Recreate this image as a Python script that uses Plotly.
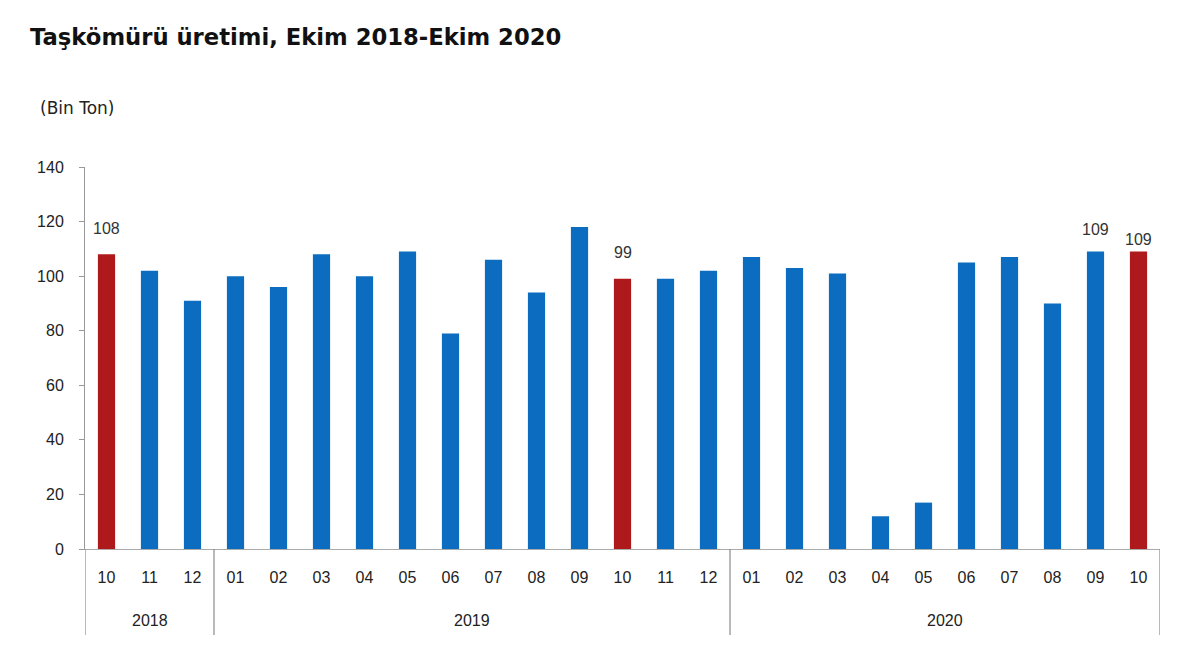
import plotly.graph_objects as go

years = ["2018"] * 3 + ["2019"] * 12 + ["2020"] * 10
months = ["10", "11", "12",
          "01", "02", "03", "04", "05", "06", "07", "08", "09", "10", "11", "12",
          "01", "02", "03", "04", "05", "06", "07", "08", "09", "10"]
values = [108, 102, 91,
          100, 96, 108, 100, 109, 79, 106, 94, 118, 99, 99, 102,
          107, 103, 101, 12, 17, 105, 107, 90, 109, 109]
highlight = [0, 12, 24]
labelled = [0, 12, 23, 24]
y_ticks = [0, 20, 40, 60, 80, 100, 120, 140]

# styles
BLUE = "#0b6cc0"
RED = "#ae1a1c"
LABEL_SHIFT = {0: 15, 12: 16, 23: 12, 24: 2}
FONT = "Liberation Sans"

idx = list(range(len(values)))
colors = [RED if i in highlight else BLUE for i in idx]

fig = go.Figure(go.Bar(
    x=idx, y=values,
    marker=dict(color=colors, line=dict(width=0)),
    width=0.4, hoverinfo="x+y",
))

annotations = []
for i in labelled:
    annotations.append(dict(x=i, y=values[i], xref="x", yref="y", text=str(values[i]),
                            showarrow=False, yanchor="bottom", yshift=LABEL_SHIFT[i],
                            font=dict(family=FONT, size=16, color="#333333")))

# group (year) labels and dividers, derived from the data
shapes = []
groups = []
start = 0
for i in range(1, len(years) + 1):
    if i == len(years) or years[i] != years[start]:
        groups.append((years[start], start, i - 1))
        start = i
bounds = sorted({g[1] - 0.5 for g in groups} | {g[2] + 0.5 for g in groups})
for b in bounds:
    shapes.append(dict(type="line", xref="x", yref="paper", x0=b, x1=b, y0=0, y1=-0.225,
                       line=dict(color="#8a8a8a", width=1.2)))
for name, s, e in groups:
    annotations.append(dict(x=(s + e) / 2, y=-0.186, xref="x", yref="paper", text=name,
                            showarrow=False, yanchor="middle",
                            font=dict(family=FONT, size=16, color="#222222")))

annotations.append(dict(text="(Bin Ton)", xref="paper", yref="paper",
                        x=-0.044, y=1.154, xanchor="left", yanchor="middle",
                        showarrow=False, font=dict(family="DejaVu Sans", size=17, color="#222222")))

fig.update_layout(
    width=1200, height=672,
    margin=dict(l=85, r=40, t=167, b=123),
    paper_bgcolor="white", plot_bgcolor="white",
    showlegend=False,
    font=dict(family=FONT, size=16, color="#222222"),
    title=dict(text="<b>Taşkömürü üretimi, Ekim 2018-Ekim 2020</b>",
               x=0.025, xanchor="left", y=0.945, yanchor="middle",
               font=dict(family="DejaVu Sans", size=22.7, color="#111111")),
    annotations=annotations,
    shapes=shapes,
)
fig.update_yaxes(range=[0, 140], tickvals=y_ticks, showgrid=False, zeroline=False,
                 showline=True, linecolor="#999999", linewidth=1,
                 ticks="outside", ticklen=5, tickcolor="#999999",
                 ticklabelstandoff=12,
                 tickfont=dict(family=FONT, size=16, color="#222222"))
fig.update_xaxes(range=[-0.5, len(values) - 0.5], tickvals=idx, ticktext=months,
                 showgrid=False, zeroline=False,
                 showline=True, linecolor="#aaaaaa", linewidth=1,
                 ticks="", ticklabelstandoff=14,
                 tickfont=dict(family=FONT, size=16, color="#222222"))

fig.write_html("out.html")
